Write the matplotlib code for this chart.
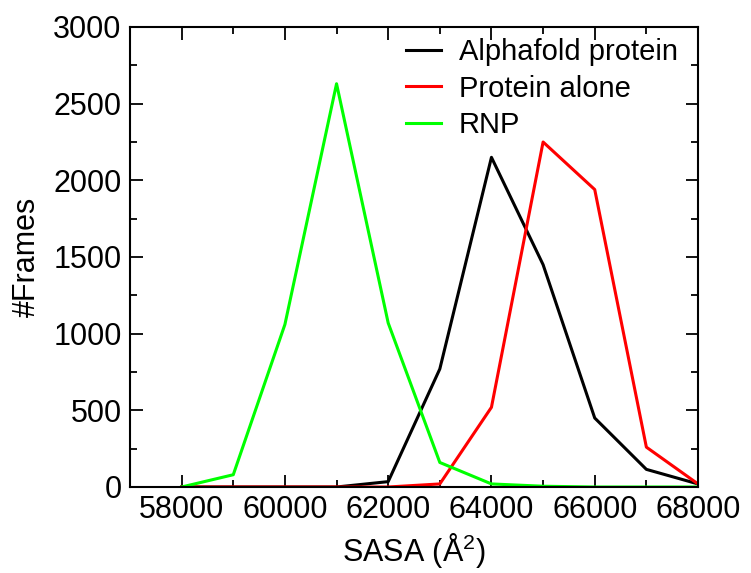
import matplotlib

matplotlib.use("Agg")
import matplotlib.pyplot as plt
from matplotlib.ticker import MultipleLocator

sasa = [58000, 59000, 60000, 61000, 62000, 63000, 64000, 65000, 66000, 67000, 68000]
alphafold = [0, 0, 0, 0, 35, 770, 2150, 1450, 450, 115, 20]
protein_alone = [0, 0, 0, 0, 0, 20, 520, 2250, 1940, 260, 20]
rnp = [0, 80, 1060, 2630, 1070, 160, 20, 5, 0, 0, 0]

plt.rcParams["font.family"] = ["Liberation Sans", "DejaVu Sans"]

fig = plt.figure(figsize=(7.51, 5.73), dpi=100)
ax = fig.add_axes([130 / 751, (573 - 487) / 573, (698 - 130) / 751, (487 - 27) / 573])

ax.plot(sasa, alphafold, color="black", linewidth=2.2, label="Alphafold protein")
ax.plot(sasa, protein_alone, color="red", linewidth=2.2, label="Protein alone")
ax.plot(sasa, rnp, color="#00ff00", linewidth=2.2, label="RNP")

ax.set_xlim(57000, 68000)
ax.set_ylim(0, 3000)
ax.xaxis.set_major_locator(MultipleLocator(2000))
ax.xaxis.set_minor_locator(MultipleLocator(1000))
ax.yaxis.set_major_locator(MultipleLocator(500))
ax.yaxis.set_minor_locator(MultipleLocator(250))
ax.tick_params(which="both", direction="in", top=True, right=True, width=1.3)
ax.tick_params(which="major", length=9, labelsize=22, pad=6)
ax.tick_params(which="minor", length=5)
for spine in ax.spines.values():
    spine.set_linewidth(1.5)

ax.set_xlabel(r"SASA ($\mathregular{\AA^2}$)", fontsize=22, labelpad=4)
ax.set_ylabel("#Frames", fontsize=22, labelpad=8)

ax.legend(loc="upper left", bbox_to_anchor=(0.461, 1.008), frameon=False, fontsize=21,
          borderpad=0, handlelength=1.2, handletextpad=0.6, labelspacing=0.3)

fig.savefig("out.png", dpi=100)
